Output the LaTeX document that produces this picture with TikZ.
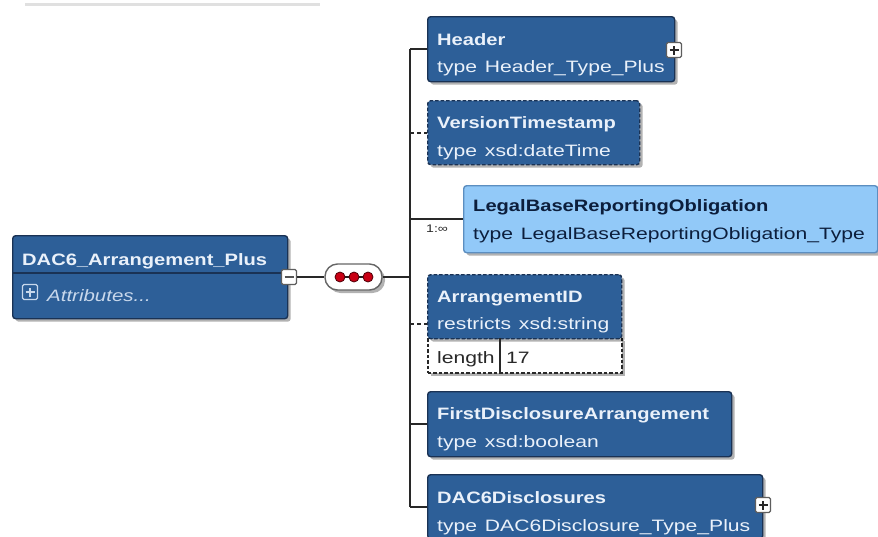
\documentclass[tikz,border=0pt]{standalone}
\usepackage{fontspec}
\setmainfont{Liberation Sans}[FakeStretch=1.28, BoldFeatures={FakeStretch=1.22}, ItalicFeatures={FakeStretch=1.24}]
\usetikzlibrary{shadows,calc}
\definecolor{dblue}{RGB}{45,95,152}
\definecolor{dborder}{RGB}{26,50,84}
\definecolor{wtext}{RGB}{234,241,250}
\definecolor{atext}{RGB}{200,216,236}
\definecolor{lblue}{RGB}{146,201,248}
\definecolor{lborder}{RGB}{92,142,192}
\definecolor{ntext}{RGB}{12,30,60}
\definecolor{lnk}{RGB}{40,40,40}
\definecolor{dotred}{RGB}{200,0,20}
\newcommand{\tsp}{\ \hspace{2pt}}
\begin{document}
\begin{tikzpicture}[x=1pt,y=-1pt,
  shad/.style={drop shadow={shadow xshift=3pt,shadow yshift=-3pt,opacity=0.3,fill=black}},
  elem/.style={draw=dborder,fill=dblue,rounded corners=3pt,line width=1.4pt,inner sep=0pt,anchor=north west,shad},
  optelem/.style={elem,dash pattern=on 3.5pt off 2pt},
  lelem/.style={draw=lborder,fill=lblue,rounded corners=3pt,line width=1.4pt,inner sep=0pt,anchor=north west,shad},
  facet/.style={draw=lnk,fill=white,dash pattern=on 3.5pt off 2pt,line width=1.6pt,inner sep=0pt,anchor=north west,shad},
  ttl/.style={anchor=base west,inner sep=0pt,font=\fontsize{16.5}{20}\selectfont\bfseries,text=wtext},
  sub/.style={anchor=base west,inner sep=0pt,font=\fontsize{16.5}{20}\selectfont,text=wtext},
  lttl/.style={ttl,text=ntext},
  lsub/.style={sub,text=ntext},
  ftxt/.style={sub,text=lnk},
  conn/.style={draw=lnk,line width=1.6pt},
  dconn/.style={conn,dash pattern=on 4pt off 3pt},
  iconbox/.style={draw=lnk!75,fill=white,line width=1.1pt,minimum size=15pt,inner sep=0pt,rounded corners=1.5pt},
  plusbox/.style={iconbox,path picture={
    \draw[lnk,line width=1.5pt] ([xshift=-4.5pt]path picture bounding box.center) -- ([xshift=4.5pt]path picture bounding box.center);
    \draw[lnk,line width=1.5pt] ([yshift=-4.5pt]path picture bounding box.center) -- ([yshift=4.5pt]path picture bounding box.center);}},
  minusbox/.style={iconbox,path picture={
    \draw[lnk!80,line width=1.5pt] ([xshift=-4.5pt]path picture bounding box.center) -- ([xshift=4.5pt]path picture bounding box.center);}},
  dotn/.style={circle,fill=dotred,draw=dotred!40!black,line width=0.8pt,minimum size=10pt,inner sep=0pt}
]
\useasboundingbox (0,0) rectangle (878,536);
\clip (0,0) rectangle (878,536);
\fill[white] (0,0) rectangle (878,536);
% faint fragment at top
\draw[black!12,line width=3pt] (25,4) -- (320,4);

% main element
\node[elem,minimum width=275pt,minimum height=83pt] (main) at (12,235) {};
\draw[dborder,line width=1.6pt] (main.west |- 0,273) coordinate (dl) -- (main.east |- dl);
\node[ttl] (mainttl) at (22,265) {DAC6\_Arrangement\_Plus};
\node[draw=atext,line width=1.1pt,minimum size=15pt,inner sep=0pt,rounded corners=1.5pt,
  path picture={
    \draw[atext,line width=1.3pt] ([xshift=-4.5pt]path picture bounding box.center) -- ([xshift=4.5pt]path picture bounding box.center);
    \draw[atext,line width=1.3pt] ([yshift=-4.5pt]path picture bounding box.center) -- ([yshift=4.5pt]path picture bounding box.center);}] (attricon) at (30,292) {};
\node[anchor=base west,inner sep=0pt,font=\fontsize{16.5}{20}\selectfont\itshape,text=atext] (attr) at (47,301) {Attributes...};
\node[minusbox] (mbox) at (289,277) {};

% sequence compositor
\node[draw=black!60,fill=white,line width=1.4pt,rounded corners=12.5pt,minimum width=57pt,minimum height=26pt,inner sep=0pt,shad] (seq) at (353.5,277) {};
\coordinate (c1) at (340,277);
\coordinate (c2) at (354,277);
\coordinate (c3) at (368,277);
\draw[lnk!80!black,line width=1.5pt] (c1) -- (c3);
\node[dotn] (d1) at (c1) {};
\node[dotn] (d2) at (c2) {};
\node[dotn] (d3) at (c3) {};

\coordinate (bx) at (410,277);

% Header
\node[elem,minimum width=247pt,minimum height=65pt] (hdr) at (427,16) {};
\node[ttl] (hdrt) at (437,45) {Header};
\node[sub] (hdrs) at (437,72) {type\tsp Header\_Type\_Plus};
\node[plusbox] (hdrp) at (674,50) {};

% VersionTimestamp
\node[optelem,minimum width=212pt,minimum height=64pt] (vts) at (427,100) {};
\node[ttl] (vtst) at (437,128) {VersionTimestamp};
\node[sub] (vtss) at (437,156) {type\tsp xsd:dateTime};

% LegalBaseReportingObligation
\node[lelem,minimum width=414pt,minimum height=67pt] (lbr) at (463,185) {};
\node[lttl] (lbrt) at (473,211) {LegalBaseReportingObligation};
\node[lsub] (lbrs) at (473,239) {type\tsp LegalBaseReportingObligation\_Type};
\node[anchor=base west,inner sep=0pt,font=\fontsize{11}{12}\selectfont,text=lnk] (card) at (426,232) {1:∞};

% ArrangementID
\node[facet,minimum width=194pt,minimum height=35pt] (aidf) at (427,337) {};
\node[optelem,minimum width=194pt,minimum height=64pt] (aid) at (427,274) {};
\node[ttl] (aidt) at (437,302) {ArrangementID};
\node[sub] (aids) at (437,329) {restricts\tsp xsd:string};
\draw[lnk,line width=1.4pt] (500,338) -- (500,372);
\node[ftxt] (flen) at (437,363) {length};
\node[ftxt] (fval) at (506,363) {17};
\coordinate (aidc) at ($(aid.north west)!0.5!(aidf.south west)$);

% FirstDisclosureArrangement
\node[elem,minimum width=304pt,minimum height=65pt] (fda) at (427,391) {};
\node[ttl] (fdat) at (437,419) {FirstDisclosureArrangement};
\node[sub] (fdas) at (437,447) {type\tsp xsd:boolean};

% DAC6Disclosures
\node[elem,minimum width=335pt,minimum height=64pt] (dac) at (427,474) {};
\node[ttl] (dact) at (437,503) {DAC6Disclosures};
\node[sub] (dacs) at (437,531) {type\tsp DAC6Disclosure\_Type\_Plus};
\node[plusbox] (dacp) at (763,505) {};

% connectors
\draw[conn] (mbox.east) -- (seq.west);
\draw[conn] (seq.east) -- (bx);
\draw[conn] (bx |- hdr.west) -- (bx |- dac.west);
\draw[conn] (bx |- hdr.west) -- (hdr.west);
\draw[dconn] (bx |- vts.west) -- (vts.west);
\draw[conn] (bx |- lbr.west) -- (lbr.west);
\draw[dconn] (bx |- aidc) -- (aidc);
\draw[conn] (bx |- fda.west) -- (fda.west);
\draw[conn] (bx |- dac.west) -- (dac.west);
\end{tikzpicture}
\end{document}
